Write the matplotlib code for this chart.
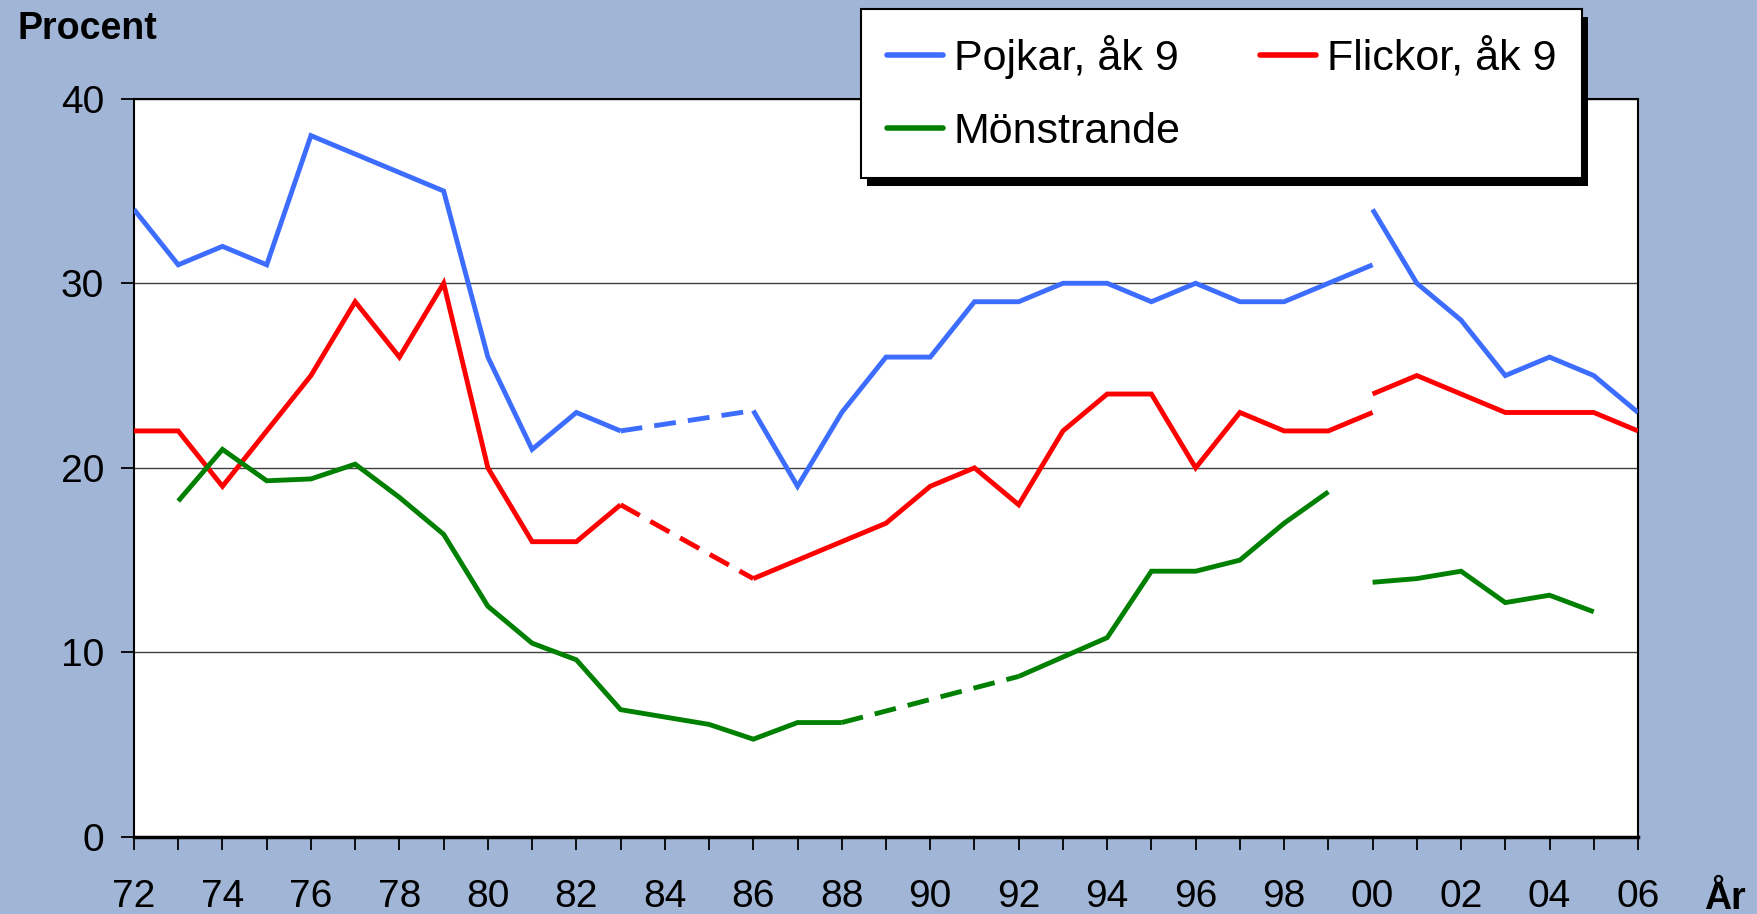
import matplotlib
matplotlib.use('Agg')
import numpy as np
import matplotlib.pyplot as plt
from matplotlib.lines import Line2D
from matplotlib.patches import Rectangle
from matplotlib.transforms import IdentityTransform

plt.rcParams['font.family'] = ['Liberation Sans', 'DejaVu Sans']

nan = np.nan
# Data -------------------------------------------------------------
years_old = list(range(1972, 2001))          # 1972 .. 2000
years_new = list(range(2000, 2007))          # 2000 .. 2006

pojkar_old = [34, 31, 32, 31, 38, 37, 36, 35, 26, 21, 23, 22, nan, nan, 23.1,
              19, 23, 26, 26, 29, 29, 30, 30, 29, 30, 29, 29, 30, 31]
pojkar_new = [34, 30, 28, 25, 26, 25, 23]

flickor_old = [22, 22, 19, 22, 25, 29, 26, 30, 20, 16, 16, 18, nan, nan, 14,
               15, 16, 17, 19, 20, 18, 22, 24, 24, 20, 23, 22, 22, 23]
flickor_new = [24, 25, 24, 23, 23, 23, 22]

monstrande_old = [nan, 18.2, 21.0, 19.3, 19.4, 20.2, 18.4, 16.4, 12.5, 10.5, 9.6,
                  6.9, 6.5, 6.1, 5.3, 6.2, 6.2, nan, nan, nan, 8.7, 9.75, 10.8,
                  14.4, 14.4, 15.0, 17.0, 18.7, nan]
monstrande_new = [13.8, 14.0, 14.4, 12.7, 13.1, 12.2, nan]

labels = ['Pojkar, åk 9', 'Flickor, åk 9', 'Mönstrande']
colors = ['#3D6DFF', '#FF0000', '#008000']

yticks = [0, 10, 20, 30, 40]
xtick_years = list(range(1972, 2007))

# Figure -----------------------------------------------------------
W, H = 1758, 914
bg = '#A1B5D6'
fig = plt.figure(figsize=(W / 100, H / 100), dpi=100, facecolor=bg)
ax = fig.add_axes([134 / W, 1 - 837 / H, (1638 - 134) / W, (837 - 98.7) / H])
ax.set_facecolor('white')

LW = 3.5


def draw(x, y, color):
    x = np.asarray(x, float)
    y = np.asarray(y, float)
    ax.plot(x, y, color=color, lw=LW, solid_joinstyle='miter',
            solid_capstyle='butt', zorder=3)
    valid = np.where(~np.isnan(y))[0]
    for a, b in zip(valid[:-1], valid[1:]):
        if b - a > 1:
            ax.plot([x[a], x[b]], [y[a], y[b]], color=color, lw=LW,
                    linestyle=(0, (4.5, 2.5)), dash_capstyle='butt', zorder=3)


for old, new, c in [(pojkar_old, pojkar_new, colors[0]),
                    (flickor_old, flickor_new, colors[1]),
                    (monstrande_old, monstrande_new, colors[2])]:
    draw(years_old, old, c)
    draw(years_new, new, c)

ax.set_xlim(1972, 2006)
ax.set_ylim(0, 40)
ax.set_yticks(yticks)
ax.set_yticklabels([str(v) for v in yticks])
ax.set_xticks(xtick_years)
ax.set_xticklabels([f'{y % 100:02d}' if y % 2 == 0 else '' for y in xtick_years])
ax.tick_params(axis='y', length=9.5, width=1.3, pad=12, labelsize=28, direction='out')
ax.tick_params(axis='x', length=9, width=1.3, pad=21, labelsize=28, direction='out')

ax.yaxis.grid(True, color='#404040', lw=1.0, zorder=1)
ax.set_axisbelow(True)
for s in ['left', 'top', 'right']:
    ax.spines[s].set_linewidth(1.5)
    ax.spines[s].set_color('black')
ax.spines['bottom'].set_linewidth(2.5)

fig.text(17 / W, 1 - 39 / H, 'Procent', fontsize=27, fontweight='bold',
         ha='left', va='baseline')
fig.text(1725 / W, 1 - 909 / H, 'År', fontsize=27, fontweight='bold',
         ha='center', va='baseline')

handles = [Line2D([], [], color=c, lw=4, solid_capstyle='round') for c in colors]
order = [0, 2, 1]
leg = fig.legend([handles[i] for i in order], [labels[i] for i in order],
                 ncol=2, loc='upper left', bbox_to_anchor=(861 / W, 1 - 9 / H),
                 fontsize=31, frameon=True, fancybox=False, edgecolor='black',
                 framealpha=1, handlelength=1.3, handletextpad=0.25,
                 columnspacing=1.85, borderpad=0.6, labelspacing=0.78,
                 borderaxespad=0)
leg.get_frame().set_linewidth(1.5)
leg.set_zorder(10)

fig.canvas.draw()
bb = leg.get_frame().get_window_extent()
shadow = Rectangle((bb.x0 + 6, bb.y0 - 8), bb.width, bb.height,
                   transform=IdentityTransform(), facecolor='black',
                   edgecolor='none', zorder=9.5)
fig.add_artist(shadow)

fig.savefig('out.png', dpi=100, facecolor=bg)
